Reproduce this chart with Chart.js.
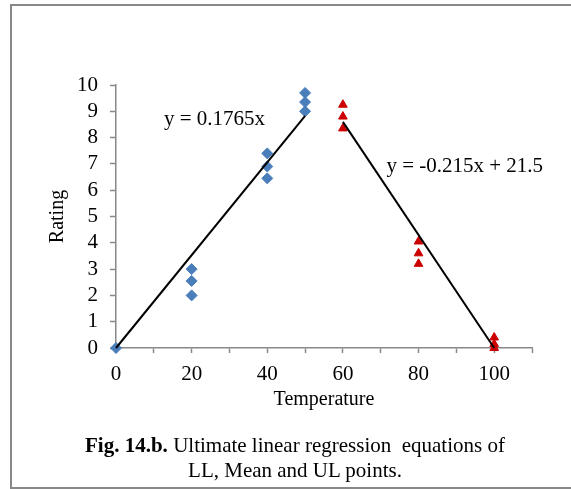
<!DOCTYPE html>
<html>
<head>
<meta charset="utf-8">
<script src="https://cdn.jsdelivr.net/npm/chart.js@4"></script>
<style>
  html, body { margin: 0; background: #fff; overflow: hidden; }
  #wrap { position: relative; width: 571px; height: 489px; overflow: hidden; }
  .rule { position: absolute; background: #888; }
  #ruleTop { left: 10px; top: 4px; width: 561px; height: 2px; }
  #ruleLeft { left: 10px; top: 4px; width: 2px; height: 485px; }
  #ruleBottom { left: 10px; top: 487px; width: 561px; height: 2px; }
  #caption {
    position: absolute; left: 60px; top: 433px; width: 470px;
    text-align: center; font-family: 'Liberation Serif', serif; font-size: 21px;
    line-height: 25px; color: #000; white-space: nowrap;
  }
  canvas { position: absolute; left: 0; top: 0; }
</style>
</head>
<body>
<div id="wrap">
  <div class="rule" id="ruleTop"></div>
  <div class="rule" id="ruleLeft"></div>
  <div class="rule" id="ruleBottom"></div>
  <canvas id="ratingChart" width="571" height="489"></canvas>
  <div id="caption"><b>Fig. 14.b.</b> Ultimate linear regression &nbsp;equations of<br>LL, Mean and UL points.</div>
</div>
<script>
// LL / mean / UL points
var risingTemps = [0, 20, 20, 20, 40, 40, 40, 50, 50, 50]
var risingRatings = [0, 3.0, 2.55, 2.0, 7.4, 6.9, 6.45, 9.7, 9.35, 9.0]
var fallingTemps = [60, 60, 60, 80, 80, 80, 100, 100, 100]
var fallingRatings = [9.25, 8.8, 8.35, 4.05, 3.6, 3.2, 0.4, 0.15, 0]

// regression line end points
var risingLineTemps = [0, 50]
var risingLineRatings = [0, 8.83]
var fallingLineTemps = [60, 100]
var fallingLineRatings = [8.6, 0]

var xTickLabels = [0, 20, 40, 60, 80, 100]
var yTickLabels = [0, 1, 2, 3, 4, 5, 6, 7, 8, 9, 10]
var equationTexts = ['y = 0.1765x', 'y = -0.215x + 21.5']

function toPoints(xs, ys) {
  return xs.map(function (x, i) {
    return { x: x, y: ys[i] }
  })
}

var serif = 'Liberation Serif'

// draws the two equations next to their lines
var equationPlugin = {
  id: 'equations',
  afterDatasetsDraw: function (chart, args, opts) {
    var ctx = chart.ctx
    var xs = chart.scales.x
    var ys = chart.scales.y
    ctx.save()
    ctx.font = '21px "' + serif + '"'
    ctx.fillStyle = '#000'
    ctx.textAlign = 'left'
    ctx.textBaseline = 'middle'
    opts.spots.forEach(function (spot, i) {
      ctx.fillText(equationTexts[i], xs.getPixelForValue(spot[0]), ys.getPixelForValue(spot[1]))
    })
    ctx.restore()
  },
}

var ctx = document.getElementById('ratingChart').getContext('2d')

new Chart(ctx, {
  type: 'scatter',
  data: {
    datasets: [
      {
        type: 'line',
        data: toPoints(risingLineTemps, risingLineRatings),
        borderColor: '#000',
        borderWidth: 2,
        pointRadius: 0,
        clip: false,
        order: 0,
      },
      {
        type: 'line',
        data: toPoints(fallingLineTemps, fallingLineRatings),
        borderColor: '#000',
        borderWidth: 2,
        pointRadius: 0,
        clip: false,
        order: 0,
      },
      {
        data: toPoints(risingTemps, risingRatings),
        pointStyle: 'rectRot',
        pointRadius: 5.5,
        backgroundColor: '#4a7ebb',
        borderColor: '#4a7ebb',
        borderWidth: 1,
        clip: false,
        order: 1,
      },
      {
        data: toPoints(fallingTemps, fallingRatings),
        pointStyle: 'triangle',
        pointRadius: 5,
        backgroundColor: '#cc0000',
        borderColor: '#cc0000',
        borderWidth: 1,
        clip: false,
        order: 1,
      },
    ],
  },
  options: {
    responsive: false,
    animation: false,
    devicePixelRatio: 1,
    layout: { padding: { left: 0, top: 85, right: 39, bottom: 0 } },
    plugins: {
      legend: { display: false },
      tooltip: { enabled: false },
      equations: { spots: [[12.7, 8.68], [71.5, 6.9]] },
    },
    scales: {
      x: {
        type: 'linear',
        min: 0,
        max: 110,
        afterFit: function (scale) {
          scale.height = 141
        },
        ticks: {
          stepSize: 10,
          autoSkip: false,
          maxRotation: 0,
          padding: 9,
          color: '#000',
          font: { family: serif, size: 21 },
          callback: function (value) {
            return xTickLabels.indexOf(value) >= 0 ? value : ''
          },
        },
        grid: { drawOnChartArea: false, tickLength: 5, color: '#888', tickWidth: 1.5 },
        border: { color: '#888', width: 1.5 },
        title: {
          display: true,
          text: 'Temperature',
          color: '#000',
          font: { family: serif, size: 20 },
          padding: { top: 0, bottom: 77 },
        },
      },
      y: {
        min: 0,
        max: 10,
        afterFit: function (scale) {
          scale.width = 116
        },
        ticks: {
          stepSize: 1,
          autoSkip: false,
          padding: 12,
          color: '#000',
          font: { family: serif, size: 21 },
          callback: function (value) {
            return yTickLabels.indexOf(value) >= 0 ? value : ''
          },
        },
        grid: { drawOnChartArea: false, tickLength: 6, color: '#888', tickWidth: 1.5 },
        border: { color: '#888', width: 1.5 },
        title: {
          display: true,
          text: 'Rating',
          color: '#000',
          font: { family: serif, size: 20 },
          padding: { top: 46, bottom: 0 },
        },
      },
    },
  },
  plugins: [equationPlugin],
})
</script>
</body>
</html>
